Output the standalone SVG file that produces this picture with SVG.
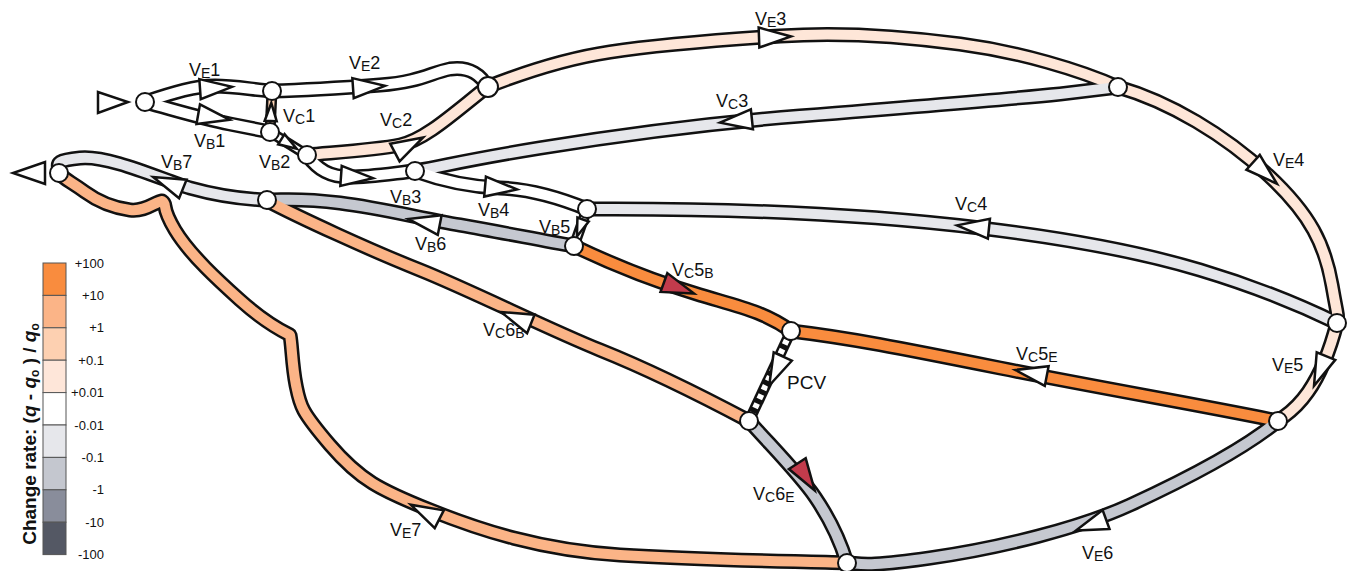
<svg xmlns="http://www.w3.org/2000/svg" xmlns:xlink="http://www.w3.org/1999/xlink" width="1351" height="571" viewBox="0 0 1351 571">
  <style>
    .ol { fill: none; stroke: #111; stroke-width: 15; stroke-linejoin: round; stroke-linecap: butt; }
    .ol.thin { stroke-width: 11; }
    .fl { fill: none; stroke-width: 10; stroke-linejoin: round; stroke-linecap: butt; }
    .fl.thin { stroke-width: 6; }
    .c0 { stroke: #ffffff; }
    .cp1 { stroke: #fee6d8; }
    .cp2 { stroke: #fdd3b5; }
    .cp3 { stroke: #fbb487; }
    .cp4 { stroke: #f98c3e; }
    .cn1 { stroke: #e6e7eb; }
    .cn2 { stroke: #c5c8d0; }
    .pcvd { fill: none; stroke: #fff; stroke-width: 6; stroke-dasharray: 5 5; }
    .arw { fill: #fff; stroke: #111; stroke-width: 2.5; stroke-linejoin: miter; }
    .arw.red { fill: #c23b4c; }
    .nd { fill: #fff; stroke: #111; stroke-width: 2; }
    .lbl { font-family: "Liberation Sans", Arial, sans-serif; font-size: 18px; fill: #111; }
    .s { font-size: 14px; }
    .lg { font-family: "Liberation Sans", Arial, sans-serif; font-size: 13px; fill: #111; text-anchor: end; }
    .lgt { font-family: "Liberation Sans", Arial, sans-serif; font-size: 19px; font-weight: bold; fill: #111; text-anchor: middle; }
    .box { stroke: #555; stroke-width: 1; }
  </style>
  <defs>
    <path id="tri" d="M-16,-10 L16,0 L-16,10 Z"/>
    <path id="tris" d="M-9,-6 L9,0 L-9,6 Z"/>
  </defs>

  <rect width="1351" height="571" fill="#fff"/>

  <!-- vein segments: black casing first, colour fill on top -->
  <g id="connectors">
    <g id="casing">
      <path class="ol" d="M145,102 C175,92 195,86 215,86 S255,90 272,91"/>
      <path class="ol" d="M145,102 C175,110 200,118 230,124 S260,130 270,132"/>
      <path class="ol" d="M272,91 C310,90 340,88 380,85 S430,73 450,69 C470,66 482,76 487,87"/>
      <path class="ol" d="M307,155 C340,152 375,150 400,145 S455,112 487,87"/>
      <path class="ol" d="M307,155 C318,170 330,177 350,177 S395,173 415,171"/>
      <path class="ol" d="M487,87 C530,70 570,58 610,52 S720,40 780,36 S900,36 960,44 S1080,70 1118,87"/>
      <path class="ol" d="M1118,87 L1060,94 C1000,100 900,108 800,116 S620,135 540,148 S450,165 415,171"/>
      <path class="ol" d="M1118,87 C1170,102 1225,135 1268,175 S1325,245 1332,285 S1338,312 1337,323"/>
      <path class="ol" d="M415,171 C440,180 470,187 500,188 S560,198 587,209"/>
      <path class="ol" d="M1337,323 C1300,305 1250,285 1200,270 S1080,240 980,228 S750,208 587,209"/>
      <path class="ol" d="M574,246 C540,240 500,232 460,225 S380,208 340,203 S290,200 266,200"/>
      <path class="ol" d="M266,200 C240,199 215,195 190,188 S110,155 80,158 S60,165 59,173"/>
      <path class="ol" d="M574,246 C620,268 660,283 700,295 S765,312 791,331"/>
      <path class="ol" d="M1278,421 C1200,405 1100,388 1000,368 S850,338 791,331"/>
      <path class="ol" d="M1337,323 C1330,350 1322,372 1308,392 S1285,415 1278,421"/>
      <path class="ol" d="M749,421 C700,395 650,370 600,350 S470,290 420,270 S300,218 266,200"/>
      <path class="ol" d="M749,421 C775,450 800,475 815,497 S840,540 847,563"/>
      <path class="ol" d="M1278,421 C1240,452 1180,482 1130,505 S1000,548 930,558 S860,563 847,563"/>
      <path class="ol" d="M847,563 C780,561 700,560 620,555 S480,530 430,510 S360,480 330,445 S300,405 296,385 S292,345 290,335 C280,330 260,318 240,300 S190,255 175,230 S168,205 162,201 C155,202 145,212 130,210 S100,203 85,192 S65,180 59,173"/>
      <path class="ol thin" d="M270,132 L272,91"/>
      <path class="ol thin" d="M270,132 L307,155"/>
      <path class="ol thin" d="M587,209 L574,246"/>
      <path class="ol thin" d="M791,331 L749,421"/>
    </g>
    <g id="fill">
      <path class="fl c0" d="M145,102 C175,92 195,86 215,86 S255,90 272,91"/>
      <path class="fl c0" d="M145,102 C175,110 200,118 230,124 S260,130 270,132"/>
      <path class="fl c0" d="M272,91 C310,90 340,88 380,85 S430,73 450,69 C470,66 482,76 487,87"/>
      <path class="fl cp1" d="M307,155 C340,152 375,150 400,145 S455,112 487,87"/>
      <path class="fl c0" d="M307,155 C318,170 330,177 350,177 S395,173 415,171"/>
      <path class="fl cp1" d="M487,87 C530,70 570,58 610,52 S720,40 780,36 S900,36 960,44 S1080,70 1118,87"/>
      <path class="fl cn1" d="M1118,87 L1060,94 C1000,100 900,108 800,116 S620,135 540,148 S450,165 415,171"/>
      <path class="fl cp1" d="M1118,87 C1170,102 1225,135 1268,175 S1325,245 1332,285 S1338,312 1337,323"/>
      <path class="fl c0" d="M415,171 C440,180 470,187 500,188 S560,198 587,209"/>
      <path class="fl cn1" d="M1337,323 C1300,305 1250,285 1200,270 S1080,240 980,228 S750,208 587,209"/>
      <path class="fl cn2" d="M574,246 C540,240 500,232 460,225 S380,208 340,203 S290,200 266,200"/>
      <path class="fl cn1" d="M266,200 C240,199 215,195 190,188 S110,155 80,158 S60,165 59,173"/>
      <path class="fl cp4" d="M574,246 C620,268 660,283 700,295 S765,312 791,331"/>
      <path class="fl cp4" d="M1278,421 C1200,405 1100,388 1000,368 S850,338 791,331"/>
      <path class="fl cp1" d="M1337,323 C1330,350 1322,372 1308,392 S1285,415 1278,421"/>
      <path class="fl cp3" d="M749,421 C700,395 650,370 600,350 S470,290 420,270 S300,218 266,200"/>
      <path class="fl cn2" d="M749,421 C775,450 800,475 815,497 S840,540 847,563"/>
      <path class="fl cn2" d="M1278,421 C1240,452 1180,482 1130,505 S1000,548 930,558 S860,563 847,563"/>
      <path class="fl cp3" d="M847,563 C780,561 700,560 620,555 S480,530 430,510 S360,480 330,445 S300,405 296,385 S292,345 290,335 C280,330 260,318 240,300 S190,255 175,230 S168,205 162,201 C155,202 145,212 130,210 S100,203 85,192 S65,180 59,173"/>
      <path class="fl thin cp2" d="M270,132 L272,91"/>
      <path class="fl thin c0" d="M270,132 L307,155"/>
      <path class="fl thin c0" d="M587,209 L574,246"/>
      <path class="pcvd" d="M791,331 L749,421"/>
    </g>
    <g id="arrows">
      <use xlink:href="#tri" class="arw" transform="translate(216,88) rotate(-4)"/>
      <use xlink:href="#tri" class="arw" transform="translate(214,117) rotate(10)"/>
      <use xlink:href="#tri" class="arw" transform="translate(369,87) rotate(-4)"/>
      <use xlink:href="#tri" class="arw" transform="translate(409,145) rotate(-28)"/>
      <use xlink:href="#tri" class="arw" transform="translate(357,177) rotate(4)"/>
      <use xlink:href="#tri" class="arw" transform="translate(775,37) rotate(-2)"/>
      <use xlink:href="#tri" class="arw" transform="translate(736,121) rotate(174)"/>
      <use xlink:href="#tri" class="arw" transform="translate(1265,173) rotate(42)"/>
      <use xlink:href="#tri" class="arw" transform="translate(501,188) rotate(5)"/>
      <use xlink:href="#tri" class="arw" transform="translate(973,227) rotate(186)"/>
      <use xlink:href="#tri" class="arw" transform="translate(424,222) rotate(191)"/>
      <use xlink:href="#tri" class="arw" transform="translate(168,183) rotate(202)"/>
      <use xlink:href="#tri" class="arw red" transform="translate(679,288) rotate(20)"/>
      <use xlink:href="#tri" class="arw" transform="translate(1031,373) rotate(191)"/>
      <use xlink:href="#tri" class="arw" transform="translate(1320,371) rotate(112)"/>
      <use xlink:href="#tri" class="arw" transform="translate(516,318) rotate(202)"/>
      <use xlink:href="#tri" class="arw red" transform="translate(806,477) rotate(57)"/>
      <use xlink:href="#tri" class="arw" transform="translate(1091,525) rotate(160)"/>
      <use xlink:href="#tri" class="arw" transform="translate(425,512) rotate(207)"/>
      <use xlink:href="#tri" class="arw" transform="translate(776,371) rotate(115)"/>
      <use xlink:href="#tris" class="arw" transform="translate(271,112) rotate(-88)"/>
      <use xlink:href="#tris" class="arw" transform="translate(289,144) rotate(32)"/>
      <use xlink:href="#tris" class="arw" transform="translate(580,228) rotate(110)"/>
    </g>
  </g>

  <!-- inlet and outlet -->
  <g id="inlet"><path class="arw" d="M98,92 L98,113 L128,102 Z"/></g>
  <g id="outlet"><path class="arw" d="M45,162 L45,184 L13,173 Z"/></g>

  <!-- junctions -->
  <g id="n0"><circle class="nd" cx="145" cy="102" r="9"/></g>
  <g id="n1"><circle class="nd" cx="272" cy="91" r="9"/></g>
  <g id="n2"><circle class="nd" cx="270" cy="132" r="9"/></g>
  <g id="n3"><circle class="nd" cx="307" cy="155" r="9"/></g>
  <g id="n4"><circle class="nd" cx="488" cy="87" r="10"/></g>
  <g id="n5"><circle class="nd" cx="415" cy="171" r="9"/></g>
  <g id="n6"><circle class="nd" cx="1118" cy="87" r="9"/></g>
  <g id="n7"><circle class="nd" cx="587" cy="209" r="9"/></g>
  <g id="n8"><circle class="nd" cx="574" cy="246" r="9"/></g>
  <g id="n9"><circle class="nd" cx="267" cy="200" r="9"/></g>
  <g id="n10"><circle class="nd" cx="59" cy="173" r="9"/></g>
  <g id="n11"><circle class="nd" cx="1337" cy="323" r="9"/></g>
  <g id="n12"><circle class="nd" cx="791" cy="331" r="9"/></g>
  <g id="n13"><circle class="nd" cx="1278" cy="421" r="9"/></g>
  <g id="n14"><circle class="nd" cx="749" cy="421" r="9"/></g>
  <g id="n15"><circle class="nd" cx="847" cy="563" r="9"/></g>

  <!-- vein labels -->
  <g id="labels">
    <text class="lbl" x="189" y="76">V<tspan class="s" dy="2">E</tspan><tspan dy="-2">1</tspan></text>
    <text class="lbl" x="194" y="147">V<tspan class="s" dy="2">B</tspan><tspan dy="-2">1</tspan></text>
    <text class="lbl" x="283" y="122">V<tspan class="s" dy="2">C</tspan><tspan dy="-2">1</tspan></text>
    <text class="lbl" x="259" y="168">V<tspan class="s" dy="2">B</tspan><tspan dy="-2">2</tspan></text>
    <text class="lbl" x="349" y="69">V<tspan class="s" dy="2">E</tspan><tspan dy="-2">2</tspan></text>
    <text class="lbl" x="380" y="126">V<tspan class="s" dy="2">C</tspan><tspan dy="-2">2</tspan></text>
    <text class="lbl" x="390" y="203">V<tspan class="s" dy="2">B</tspan><tspan dy="-2">3</tspan></text>
    <text class="lbl" x="478" y="216">V<tspan class="s" dy="2">B</tspan><tspan dy="-2">4</tspan></text>
    <text class="lbl" x="539" y="233">V<tspan class="s" dy="2">B</tspan><tspan dy="-2">5</tspan></text>
    <text class="lbl" x="415" y="250">V<tspan class="s" dy="2">B</tspan><tspan dy="-2">6</tspan></text>
    <text class="lbl" x="161" y="168">V<tspan class="s" dy="2">B</tspan><tspan dy="-2">7</tspan></text>
    <text class="lbl" x="755" y="25">V<tspan class="s" dy="2">E</tspan><tspan dy="-2">3</tspan></text>
    <text class="lbl" x="716" y="107">V<tspan class="s" dy="2">C</tspan><tspan dy="-2">3</tspan></text>
    <text class="lbl" x="1273" y="166">V<tspan class="s" dy="2">E</tspan><tspan dy="-2">4</tspan></text>
    <text class="lbl" x="955" y="210">V<tspan class="s" dy="2">C</tspan><tspan dy="-2">4</tspan></text>
    <text class="lbl" x="672" y="276">V<tspan class="s" dy="2">C</tspan><tspan dy="-2">5</tspan><tspan class="s" dy="2">B</tspan></text>
    <text class="lbl" x="1016" y="360">V<tspan class="s" dy="2">C</tspan><tspan dy="-2">5</tspan><tspan class="s" dy="2">E</tspan></text>
    <text class="lbl" x="483" y="336">V<tspan class="s" dy="2">C</tspan><tspan dy="-2">6</tspan><tspan class="s" dy="2">B</tspan></text>
    <text class="lbl" x="753" y="500">V<tspan class="s" dy="2">C</tspan><tspan dy="-2">6</tspan><tspan class="s" dy="2">E</tspan></text>
    <text class="lbl" x="1272" y="371">V<tspan class="s" dy="2">E</tspan><tspan dy="-2">5</tspan></text>
    <text class="lbl" x="1082" y="559">V<tspan class="s" dy="2">E</tspan><tspan dy="-2">6</tspan></text>
    <text class="lbl" x="390" y="536">V<tspan class="s" dy="2">E</tspan><tspan dy="-2">7</tspan></text>
    <text class="lbl" x="787" y="389" style="font-size:19px">PCV</text>
  </g>

  <!-- colour scale -->
  <g id="legend">
    <rect class="box" x="43" y="263" width="23" height="32.4" fill="#f98c3e"/>
    <rect class="box" x="43" y="295.4" width="23" height="32.4" fill="#fbb487"/>
    <rect class="box" x="43" y="327.8" width="23" height="32.4" fill="#fdd0b1"/>
    <rect class="box" x="43" y="360.2" width="23" height="32.4" fill="#fee6d9"/>
    <rect class="box" x="43" y="392.6" width="23" height="32.4" fill="#ffffff"/>
    <rect class="box" x="43" y="425" width="23" height="32.4" fill="#e6e7eb"/>
    <rect class="box" x="43" y="457.4" width="23" height="32.4" fill="#c4c7cf"/>
    <rect class="box" x="43" y="489.8" width="23" height="32.4" fill="#898d9b"/>
    <rect class="box" x="43" y="522.2" width="23" height="32.4" fill="#545864"/>
    <text class="lg" x="104" y="268">+100</text>
    <text class="lg" x="104" y="300">+10</text>
    <text class="lg" x="104" y="332">+1</text>
    <text class="lg" x="104" y="365">+0.1</text>
    <text class="lg" x="104" y="397">+0.01</text>
    <text class="lg" x="104" y="430">-0.01</text>
    <text class="lg" x="104" y="462">-0.1</text>
    <text class="lg" x="104" y="494">-1</text>
    <text class="lg" x="104" y="527">-10</text>
    <text class="lg" x="104" y="559">-100</text>
    <text class="lgt" transform="translate(36,434) rotate(-90)">Change rate: (<tspan font-style="italic">q</tspan> - <tspan font-style="italic">q</tspan><tspan font-size="12" dy="3">o</tspan><tspan dy="-3"> ) / </tspan><tspan font-style="italic">q</tspan><tspan font-size="12" dy="3">o</tspan></text>
  </g>
</svg>
